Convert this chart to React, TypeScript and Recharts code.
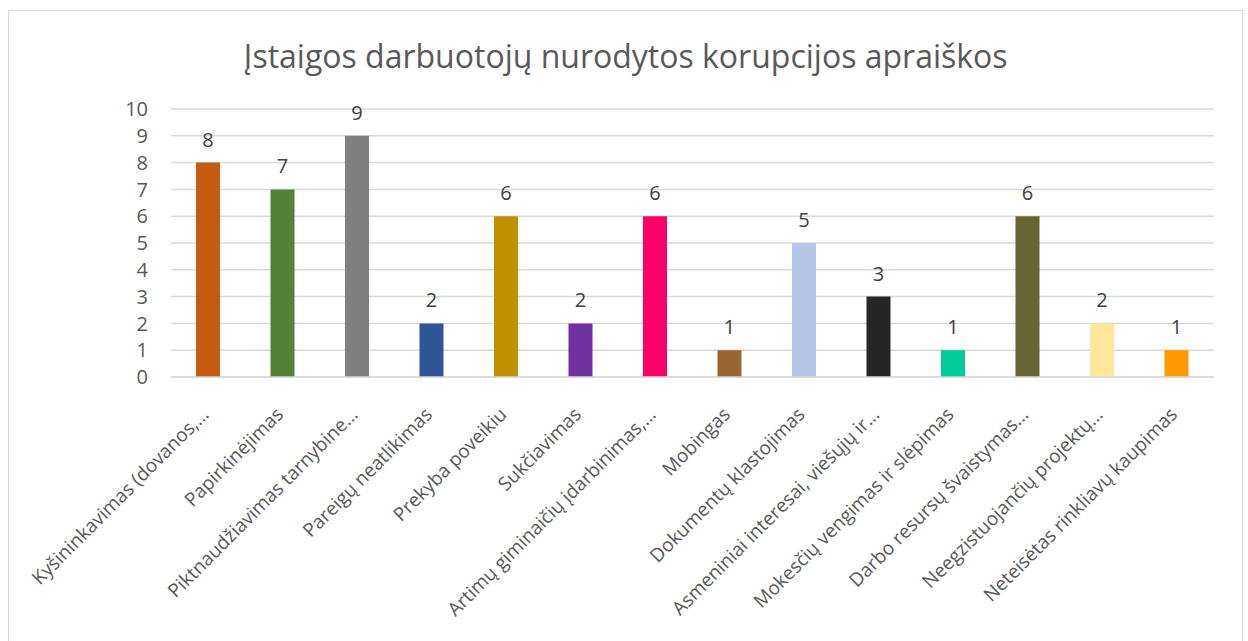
import React from "react";
import { BarChart, Bar, XAxis, YAxis, CartesianGrid, Cell, LabelList } from "recharts";

const categories = [
  "Kyšininkavimas (dovanos,…",
  "Papirkinėjimas",
  "Piktnaudžiavimas tarnybine…",
  "Pareigų neatlikimas",
  "Prekyba poveikiu",
  "Sukčiavimas",
  "Artimų giminaičių įdarbinimas,…",
  "Mobingas",
  "Dokumentų klastojimas",
  "Asmeniniai interesai, viešųjų ir…",
  "Mokesčių vengimas ir slėpimas",
  "Darbo resursų švaistymas…",
  "Neegzistuojančių projektų…",
  "Neteisėtas rinkliavų kaupimas",
];
const values = [8, 7, 9, 2, 6, 2, 6, 1, 5, 3, 1, 6, 2, 1];
const colors = [
  "#C55A11", "#538135", "#7F7F7F", "#2F5597", "#BF9000", "#7030A0", "#FF0066",
  "#996633", "#B4C7E7", "#262626", "#00CC99", "#666633", "#FFE699", "#FF9900",
];
const yTicks = [0, 1, 2, 3, 4, 5, 6, 7, 8, 9, 10];
const title = "Įstaigos darbuotojų nurodytos korupcijos apraiškos";

const data = categories.map((name, i) => ({ name, value: values[i] }));

const FONT = "'Open Sans', sans-serif";

const XTick = (props: any) => {
  const { x, y, payload } = props;
  return (
    <text
      transform={`translate(${x - 3},${y + 26}) rotate(-45)`}
      textAnchor="end"
      dy="0.35em"
      fill="#595959"
      fontSize={19}
      fontFamily={FONT}
    >
      {payload.value}
    </text>
  );
};

export default function App() {
  return (
    <div
      style={{
        position: "absolute",
        left: 8,
        top: 10,
        width: 1233,
        height: 640,
        border: "1px solid #d9d9d9",
        background: "#fff",
      }}
    >
      <div
        style={{
          position: "absolute",
          left: 0,
          right: 0,
          top: 25,
          textAlign: "center",
          fontFamily: FONT,
          fontSize: 32,
          color: "#595959",
          fontWeight: 400,
          lineHeight: "40px",
        }}
      >
        {title}
      </div>
      <BarChart
        width={1233}
        height={640}
        data={data}
        margin={{ top: 98, right: 28, left: 102, bottom: 14 }}
      >
        <CartesianGrid vertical={false} stroke="#d9d9d9" strokeWidth={1.5} />
        <XAxis
          dataKey="name"
          interval={0}
          height={260}
          tick={<XTick />}
          tickLine={false}
          axisLine={{ stroke: "#d9d9d9", strokeWidth: 1.5 }}
        />
        <YAxis
          width={60}
          domain={[0, 10]}
          ticks={yTicks}
          interval={0}
          tickLine={false}
          axisLine={false}
          tickSize={0}
          tickMargin={23}
          tick={{ fill: "#595959", fontSize: 20, fontFamily: FONT }}
        />
        <Bar dataKey="value" barSize={24} isAnimationActive={false}>
          {data.map((d, i) => (
            <Cell key={d.name} fill={colors[i]} />
          ))}
          <LabelList
            dataKey="value"
            position="top"
            offset={16}
            fill="#404040"
            fontSize={20}
            fontFamily={FONT}
          />
        </Bar>
      </BarChart>
    </div>
  );
}
